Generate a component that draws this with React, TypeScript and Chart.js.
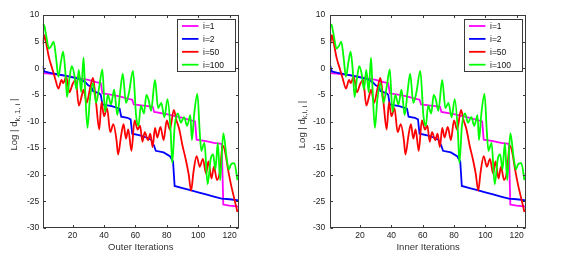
import React, { useEffect, useRef } from "react";
import { Chart, registerables } from "chart.js";
Chart.register(...registerables);

const xTickValues = [20, 40, 60, 80, 100, 120];
const yTickValues = [10, 5, 0, -5, -10, -15, -20, -25, -30];
const seriesLabels = ["i=1", "i=2", "i=50", "i=100"];
const seriesColors = ["#ff00ff", "#0000ff", "#ff0000", "#00ff00"];
const seriesSmooth = [false, false, true, true];

const i1X = [1, 5, 10, 15, 20, 25, 30, 35, 38, 39, 45, 50, 55, 58, 59, 65, 71, 72, 80, 90, 98, 99, 105, 110, 115, 116, 120, 126];
const i1Y = [-0.9, -1.0, -1.2, -1.4, -1.6, -1.9, -2.2, -2.6, -2.8, -4.7, -5.0, -5.3, -5.7, -5.9, -6.8, -7.0, -7.2, -8.2, -8.6, -9.3, -10.0, -13.4, -13.7, -14.0, -14.2, -25.6, -25.8, -26.0];

const i2X = [1, 2, 5, 10, 15, 20, 25, 28, 30, 32, 33, 37, 38, 39, 45, 50, 51, 55, 57, 58, 63, 67, 70, 72, 73, 78, 82, 84, 85, 90, 95, 100, 105, 110, 115, 120, 126];
const i2Y = [0.4, -0.6, -0.8, -1.1, -1.4, -1.7, -2.1, -2.6, -3.2, -3.5, -4.3, -4.7, -5.0, -6.8, -7.1, -7.6, -9.1, -9.3, -9.6, -12.3, -12.6, -13.0, -13.4, -14.6, -15.5, -15.8, -16.5, -17.5, -22.1, -22.5, -22.9, -23.3, -23.7, -24.1, -24.5, -24.6, -24.8];

const i50X = [1, 2, 3, 5, 7, 9, 11, 13, 14, 16, 18, 20, 22, 24, 26, 27, 29, 31, 33, 35, 37, 38.5, 40, 42, 44, 46, 48, 49, 51, 52.5, 54, 55.5, 57.5, 59.5, 61.5, 63, 64.5, 66, 68, 69.5, 71, 72.5, 74, 76, 78, 80, 82, 84.5, 86, 88, 90, 92, 94, 95.5, 97, 99, 101, 103, 105, 106.5, 108.5, 110, 112, 114, 115.5, 117, 119, 121, 123, 125];
const i50Y = [4.5, 6.2, 5.0, 2.0, 0, -2, -3.8, -2.2, -2.8, -1.6, -4.5, -3.0, -2.2, -7.0, -5.0, -4.0, -6.5, -4.0, -1.8, -6.5, -11.5, -6.3, -9.0, -7.5, -12, -10.5, -13.5, -16.2, -12.5, -10.5, -13.2, -11.5, -15.5, -9.8, -11.5, -10.8, -13.8, -12.0, -13.5, -12.3, -14.8, -11.2, -13.0, -11.0, -13.5, -9.8, -11.5, -7.8, -9.6, -11.5, -14.5, -17.0, -20.0, -23.0, -19.5, -16.5, -18.5, -17.0, -19.8, -17.5, -20.7, -18.5, -21.0, -19.0, -14.5, -15.5, -19.0, -22.0, -24.5, -27.0];

const i100X = [1, 2, 3, 5, 6.5, 8, 9.5, 11, 12.5, 14, 15.5, 16.5, 18, 19.5, 21, 22.5, 24, 25.5, 27, 28, 29.5, 31, 33, 35, 37, 39, 40.7, 42.5, 44.5, 46.5, 48.5, 50.5, 52, 54, 56, 58.5, 60.5, 62, 63.5, 65.5, 67, 68.5, 70, 72.5, 74.5, 76.5, 78.5, 80.5, 82.5, 83.5, 85, 87, 89, 91, 93, 95, 96, 97.5, 99.5, 101, 102, 104, 106, 108, 109.5, 111, 112.5, 114, 116, 118, 119.5, 121, 123, 125];
const i100Y = [8.3, 8.0, 6.5, 3.7, 4.2, 5.0, 2.0, -1.6, 1.0, 3.1, -1.0, -5.4, -2.0, 0.4, -1.0, -4.0, -0.3, -4.5, 2.0, -4.0, -11.2, -6.0, -2.8, -6.5, -3.5, -0.2, -8.2, -5.0, -6.8, -4.0, -8.8, -4.0, -1.0, -6.5, -4.5, -0.5, -9.0, -10.8, -7.0, -8.5, -5.0, -6.0, -8.0, -2.2, -7.5, -6.5, -9.2, -5.8, -12.0, -17.8, -11.0, -8.5, -10.2, -9.2, -10.8, -8.8, -13.5, -8.5, -4.8, -12.0, -15.5, -14.0, -21.8, -17.0, -16.2, -19.0, -14.0, -21.0, -12.2, -16.5, -19.0, -18.0, -17.8, -21.0];

const seriesX = [i1X, i2X, i50X, i100X];
const seriesY = [i1Y, i2Y, i50Y, i100Y];

const FONT = '"Liberation Sans", Arial, sans-serif';

type PanelProps = {
  left: number;
  xTitle: string;
  sub: string;
  areaLeft: number;
  areaRight: number;
  tickPad: number;
  yTitleX: number;
};

function Panel(props: PanelProps) {
  const ref = useRef<HTMLCanvasElement | null>(null);
  useEffect(() => {
    const W = 281, H = 254;
    const top = 15, bottom = 228;
    const decor = {
      id: "decor",
      afterDraw(chart: any) {
        const ctx = chart.ctx as CanvasRenderingContext2D;
        const a = chart.chartArea;
        const xs = chart.scales.x, ys = chart.scales.y;
        ctx.save();
        ctx.strokeStyle = "#3a3a3a";
        ctx.lineWidth = 1;
        const L = Math.round(a.left) + 0.5, R = Math.round(a.right) - 0.5;
        const T = Math.round(a.top) + 0.5, B = Math.round(a.bottom) - 0.5;
        ctx.strokeRect(L, T, R - L, B - T);
        const tl = 2.5;
        ctx.beginPath();
        for (const v of xTickValues) {
          const px = Math.round(xs.getPixelForValue(v)) + 0.5;
          ctx.moveTo(px, B); ctx.lineTo(px, B - tl);
          ctx.moveTo(px, T); ctx.lineTo(px, T + tl);
        }
        for (const v of yTickValues) {
          const py = Math.round(ys.getPixelForValue(v)) + 0.5;
          ctx.moveTo(L, py); ctx.lineTo(L + tl, py);
          ctx.moveTo(R, py); ctx.lineTo(R - tl, py);
        }
        ctx.stroke();

        // legend
        const bw = 58, bh = 52;
        const bx = Math.round(a.right - 4 - bw) + 0.5;
        const by = Math.round(a.top + 4) + 0.5;
        ctx.fillStyle = "#ffffff";
        ctx.fillRect(bx, by, bw, bh);
        ctx.strokeStyle = "#3a3a3a";
        ctx.lineWidth = 1;
        ctx.strokeRect(bx, by, bw, bh);
        ctx.font = `8.5px ${FONT}`;
        ctx.textBaseline = "middle";
        ctx.textAlign = "left";
        for (let i = 0; i < seriesLabels.length; i++) {
          const cy = by + 6.5 + 12.9 * i;
          ctx.strokeStyle = seriesColors[i];
          ctx.lineWidth = 1.8;
          ctx.beginPath();
          ctx.moveTo(bx + 4.5, cy);
          ctx.lineTo(bx + 21, cy);
          ctx.stroke();
          ctx.fillStyle = "#111";
          ctx.fillText(seriesLabels[i], bx + 25.5, cy + 0.5);
        }

        // x title
        ctx.fillStyle = "#333";
        ctx.font = `9.5px ${FONT}`;
        ctx.textAlign = "center";
        ctx.textBaseline = "middle";
        ctx.fillText(props.xTitle, (a.left + a.right) / 2, 247.5);

        // y title with subscript
        const mainFont = `9.5px ${FONT}`;
        const subFont = `7.5px ${FONT}`;
        const p1 = "Log | d", p3 = " |";
        ctx.font = mainFont;
        const w1 = ctx.measureText(p1).width;
        const w3 = ctx.measureText(p3).width;
        ctx.font = subFont;
        const w2 = ctx.measureText(props.sub).width;
        const tw = w1 + w2 + w3;
        ctx.translate(props.yTitleX, (a.top + a.bottom) / 2 + 3);
        ctx.rotate(-Math.PI / 2);
        ctx.textAlign = "left";
        ctx.textBaseline = "middle";
        let cx = -tw / 2;
        ctx.font = mainFont;
        ctx.fillText(p1, cx, 0);
        cx += w1;
        ctx.font = subFont;
        ctx.fillText(props.sub, cx, 3);
        cx += w2;
        ctx.font = mainFont;
        ctx.fillText(p3, cx, 0);
        ctx.restore();
      },
    };

    const datasets = seriesLabels.map((lab, i) => ({
      label: lab,
      data: seriesX[i].map((x, k) => ({ x, y: seriesY[i][k] })),
      borderColor: seriesColors[i],
      backgroundColor: seriesColors[i],
      borderWidth: 1.8,
      pointRadius: 0,
      tension: seriesSmooth[i] ? 0.4 : 0,
      cubicInterpolationMode: seriesSmooth[i] ? ("monotone" as const) : ("default" as const),
      fill: false,
      order: seriesLabels.length - i,
    }));

    const chart = new Chart(ref.current as HTMLCanvasElement, {
      type: "line",
      data: { datasets },
      plugins: [decor],
      options: {
        animation: false,
        responsive: false,
        devicePixelRatio: 1,
        layout: { padding: { left: 0, right: W - props.areaRight, top, bottom: 0 } },
        plugins: { legend: { display: false }, tooltip: { enabled: false } },
        scales: {
          x: {
            type: "linear",
            min: 1,
            max: 126,
            grid: { display: false, drawTicks: false },
            border: { display: false },
            afterFit: (s: any) => { s.height = H - bottom; },
            afterBuildTicks: (s: any) => { s.ticks = xTickValues.map((v) => ({ value: v })); },
            ticks: { padding: 3, color: "#222", font: { family: FONT, size: 8.5 }, maxRotation: 0, autoSkip: false },
          },
          y: {
            type: "linear",
            min: -30,
            max: 10,
            grid: { display: false, drawTicks: false },
            border: { display: false },
            afterFit: (s: any) => { s.width = props.areaLeft; },
            afterBuildTicks: (s: any) => { s.ticks = yTickValues.map((v) => ({ value: v })); },
            ticks: { padding: props.tickPad, color: "#222", font: { family: FONT, size: 8.5 }, autoSkip: false },
          },
        },
      },
    });
    return () => chart.destroy();
  }, []);
  return (
    <canvas
      ref={ref}
      width={281}
      height={254}
      style={{ position: "absolute", left: props.left, top: 0, width: 281, height: 254 }}
    />
  );
}

export default function App() {
  return (
    <div style={{ position: "absolute", left: 0, top: 0, width: 562, height: 254, background: "#fff", overflow: "hidden" }}>
      <Panel left={0} xTitle="Outer Iterations" sub="k, 1, i" areaLeft={42.7} areaRight={239} tickPad={3.5} yTitleX={14.5} />
      <Panel left={281} xTitle="Inner Iterations" sub="k,i, i" areaLeft={49.3} areaRight={245} tickPad={5} yTitleX={21} />
    </div>
  );
}
